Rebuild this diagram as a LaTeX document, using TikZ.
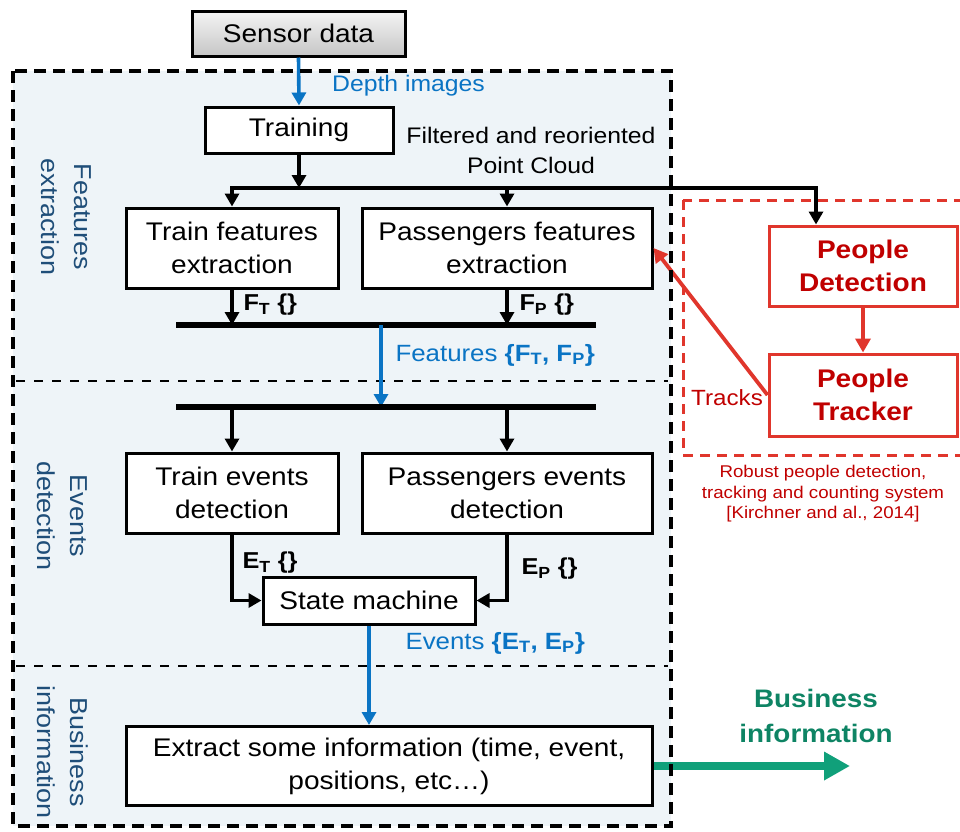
\documentclass[tikz,border=0pt]{standalone}
\usepackage{fontspec}
\setmainfont[FakeStretch=1.1]{Liberation Sans}
\usetikzlibrary{arrows.meta,shadows}
\definecolor{bgblue}{HTML}{EEF4F8}
\definecolor{flowblue}{HTML}{0A74C4}
\definecolor{lblblue}{HTML}{1F4E79}
\definecolor{redline}{HTML}{E0362C}
\definecolor{redtext}{HTML}{C00000}
\definecolor{biz}{HTML}{10A07A}
\definecolor{biztext}{HTML}{0E8464}
\tikzset{
  box/.style={draw, line width=3pt, fill=white, align=center, inner sep=0pt,
    font=\fontsize{25.5}{33}\selectfont,
    drop shadow={shadow xshift=1.5pt, shadow yshift=-1.5pt, opacity=.25}},
  redbox/.style={draw=redline, line width=3pt, fill=white, align=center, inner sep=0pt,
    text=redtext, font=\fontsize{25.5}{33}\selectfont\bfseries},
  arr/.style={line width=3.8pt, -{Triangle[length=13pt,width=14pt]}},
  bluearr/.style={draw=flowblue, line width=3.6pt, -{Triangle[length=13pt,width=14pt]}},
  redarr/.style={draw=redline, line width=3.8pt, -{Triangle[length=14pt,width=15pt]}},
  bus/.style={line width=5.4pt},
  sidelbl/.style={rotate=-90, align=center, text=lblblue, font=\fontsize{24.5}{33}\selectfont},
  sublbl/.style={anchor=west, font=\fontsize{23}{26}\selectfont\bfseries},
  flowlbl/.style={anchor=west, text=flowblue, font=\fontsize{23.5}{27}\selectfont},
}
\begin{document}
\begin{tikzpicture}[x=1pt,y=-1pt]
\useasboundingbox (0,0) rectangle (960,831);
% background panel
\fill[bgblue] (13,71) rectangle (671,826);
\draw[line width=2.8pt, dash pattern=on 9pt off 9pt] (16,381) -- (668,381);
\draw[line width=2.8pt, dash pattern=on 9pt off 9pt] (16,666) -- (668,666);
% red dashed area
\draw[redline, line width=3pt, dash pattern=on 10pt off 7pt] (683,200) rectangle (985,455);

% side labels
\node[sidelbl] (lf) at (66,217) {Features\\extraction};
\node[sidelbl] (le) at (62,516) {Events\\detection};
\node[sidelbl] (lb) at (63,752) {Business\\information};

% nodes
\node[box, minimum width=213pt, minimum height=45pt, top color=gray!8, bottom color=gray!45] (sensor) at (298.5,33.5) {Sensor data};
\node[box, minimum width=188pt, minimum height=46pt] (train) at (299,130) {Training};
\node[box, minimum width=212pt, minimum height=80pt] (tf) at (232,248) {Train features\\extraction};
\node[box, minimum width=290pt, minimum height=80pt] (pf) at (507,248) {Passengers features\\extraction};
\node[box, minimum width=212pt, minimum height=80pt] (te) at (232,493) {Train events\\detection};
\node[box, minimum width=290pt, minimum height=80pt] (pe) at (507,493) {Passengers events\\detection};
\node[box, minimum width=212pt, minimum height=47pt] (sm) at (369,600.5) {State machine};
\node[box, minimum width=526pt, minimum height=79pt] (ex) at (389,766) {Extract some information (time, event,\\positions, etc\dots)};
\node[redbox, minimum width=188pt, minimum height=80pt] (pd) at (863,266) {People\\Detection};
\node[redbox, minimum width=188pt, minimum height=82pt] (pt) at (863,395) {People\\Tracker};

% texts
\node[text=flowblue, font=\fontsize{22.5}{26}\selectfont] (depth) at (408.5,86) {Depth images};
\node[align=center, font=\fontsize{22.5}{30}\selectfont] (pc) at (531,150) {Filtered and reoriented\\Point Cloud};
\node[sublbl] (ftl) at (240,305) {F\textsubscript{T} \{\}};
\node[sublbl] (fpl) at (516,305) {F\textsubscript{P} \{\}};
\node[flowlbl] (featl) at (392,355) {Features \textbf{\{F\textsubscript{T}, F\textsubscript{P}\}}};
\node[sublbl] (etl) at (239,563) {E\textsubscript{T} \{\}};
\node[sublbl] (epl) at (518,569) {E\textsubscript{P} \{\}};
\node[flowlbl] (evl) at (402,643) {Events \textbf{\{E\textsubscript{T}, E\textsubscript{P}\}}};
\node[text=redtext, font=\fontsize{22}{26}\selectfont] (trk) at (727,398) {Tracks};
\node[align=center, text=redtext, font=\fontsize{17}{20.5}\selectfont] (cap) at (823,494) {Robust people detection,\\tracking and counting system\\{[}Kirchner and al., 2014{]}};
\node[align=center, text=biztext, font=\fontsize{25.3}{35}\selectfont\bfseries] (bizl) at (816,716) {Business\\information};

% coordinates for buses
\coordinate (b1L) at (232,188);
\coordinate (b1R) at (816,188);
\coordinate (b2L) at (176,325);
\coordinate (b2R) at (596,325);
\coordinate (b3L) at (176,407);
\coordinate (b3R) at (596,407);
\coordinate (b2m) at (381,325);
\coordinate (b3m) at (381,407);
\coordinate (bizend) at (850,766);

% connectors
\draw[bluearr] (sensor.south) -- (train.north);
\draw[arr] (train.south) -- (train.south |- b1L);
\draw[bus, line width=4.6pt, line cap=rect] (b1L) -- (b1R);
\draw[arr] (b1L) -- (tf.north);
\draw[arr] (pf.north |- b1L) -- (pf.north);
\draw[arr] (b1R) -- (b1R |- pd.north);

\draw[arr] (tf.south) -- (tf.south |- b2L);
\draw[arr] (pf.south) -- (pf.south |- b2L);
\draw[bus] (b2L) -- (b2R);
\draw[bluearr] (b2m) -- (b3m);
\draw[bus] (b3L) -- (b3R);
\draw[arr] (te.north |- b3L) -- (te.north);
\draw[arr] (pe.north |- b3L) -- (pe.north);

\draw[arr] (te.south) |- (sm.west);
\draw[arr] (pe.south) |- (sm.east);
\draw[bluearr] (sm.south) -- (sm.south |- ex.north);
\draw[draw=biz, line width=8.5pt, -{Triangle[length=26pt,width=27pt]}] (ex.east) -- (bizend);

\draw[redarr] (pd.south) -- (pt.north);
\draw[redarr] (pt.west) -- (pf.east);

% outer dashed frame on top
\draw[line width=3.6pt, dash pattern=on 12pt off 7pt] (13,71) rectangle (671,826);
\end{tikzpicture}
\end{document}
